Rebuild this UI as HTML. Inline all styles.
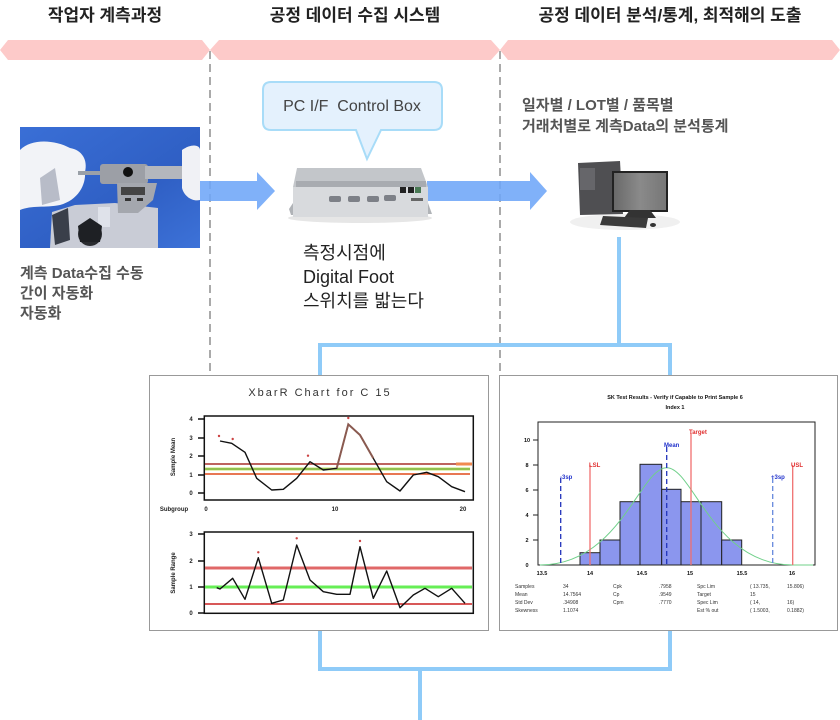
<!DOCTYPE html>
<html><head><meta charset="utf-8"><style>
html,body{margin:0;padding:0;background:#fff;}
svg{display:block;}
.k{font-family:"Liberation Sans","Noto Sans CJK KR",sans-serif;}
</style></head><body>
<svg width="840" height="720" viewBox="0 0 840 720" xmlns="http://www.w3.org/2000/svg" class="k">
<!-- headers -->
<text x="105" y="21" font-size="17" font-weight="bold" fill="#222" text-anchor="middle">작업자 계측과정</text>
<text x="355" y="21" font-size="17" font-weight="bold" fill="#222" text-anchor="middle">공정 데이터 수집 시스템</text>
<text x="670" y="21" font-size="17" font-weight="bold" fill="#222" text-anchor="middle">공정 데이터 분석/통계, 최적해의 도출</text>
<!-- band -->
<polygon points="0,50 8,40 202,40 210,50 202,60 8,60" fill="#fdcac9"/>
<polygon points="210,50 219,40 491,40 500,50 491,60 219,60" fill="#fdcac9"/>
<polygon points="500,50 508,40 832,40 840,50 832,60 508,60" fill="#fdcac9"/>
<!-- dashed -->
<line x1="210" y1="51" x2="210" y2="372" stroke="#aaa" stroke-width="2" stroke-dasharray="8,5"/>
<line x1="500" y1="51" x2="500" y2="372" stroke="#aaa" stroke-width="2" stroke-dasharray="8,5"/>

<!-- photo -->
<defs>
<linearGradient id="pb" x1="0" y1="0" x2="1" y2="1"><stop offset="0" stop-color="#3a6fd6"/><stop offset="0.6" stop-color="#2f5fc4"/><stop offset="1" stop-color="#3d72d8"/></linearGradient>
<linearGradient id="scr" x1="0" y1="0" x2="1" y2="0"><stop offset="0" stop-color="#6a6a6a"/><stop offset="0.5" stop-color="#8a8a8a"/><stop offset="1" stop-color="#777"/></linearGradient>
</defs>
<rect x="20" y="127" width="180" height="121" fill="url(#pb)"/>
<polygon points="50,248 52,212 75,205 115,203 158,208 158,248" fill="#c9ccd6"/>
<polygon points="52,215 68,208 70,240 55,245" fill="#3a3f4a"/>
<rect x="98" y="207" width="12" height="20" fill="#dfe2ea"/>
<circle cx="90" cy="234" r="12" fill="#2a2c30"/>
<polygon points="78,226 90,218 102,226 100,242 80,242" fill="#1e2024"/>
<path d="M20,150 C32,138 55,140 70,148 C82,150 88,160 85,172 C86,185 78,200 60,205 C45,208 32,205 20,210 Z" fill="#f2f3f7"/>
<path d="M40,178 L55,168 L60,200 L42,205 Z" fill="#b8bcc8"/>
<rect x="78" y="171" width="36" height="4" fill="#9aa0a8"/>
<rect x="100" y="164" width="48" height="20" rx="3" fill="#9c9fa6"/>
<rect x="145" y="166" width="42" height="13" fill="#b4b7bd"/>
<circle cx="128" cy="172" r="5" fill="#111"/>
<polygon points="117,183 157,183 153,200 138,213 118,213" fill="#a4a7ae"/>
<rect x="121" y="187" width="24" height="8" fill="#444"/>
<rect x="125" y="198" width="6" height="3" fill="#333"/><rect x="137" y="198" width="6" height="3" fill="#333"/>
<path d="M182,150 C192,143 200,145 200,150 L200,200 C192,202 184,196 182,188 Z" fill="#f0f1f5"/>

<!-- arrows -->
<polygon points="200,181 257,181 257,172 275,191 257,210 257,201 200,201" fill="#6ea6f8" opacity="0.88"/>
<polygon points="427,181 530,181 530,172 547,191 530,210 530,201 427,201" fill="#6ea6f8" opacity="0.88"/>

<!-- bubble -->
<path d="M271,82 L434,82 Q442,82 442,90 L442,122 Q442,130 434,130 L381,130 L367,159 L356,130 L271,130 Q263,130 263,122 L263,90 Q263,82 271,82 Z" fill="#e4f1fd" stroke="#a8dcf8" stroke-width="2"/>
<text x="352" y="111" font-size="16" fill="#444" text-anchor="middle" xml:space="preserve">PC I/F  Control Box</text>

<!-- control box -->
<ellipse cx="360" cy="218" rx="72" ry="5" fill="#e6e6e6"/>
<polygon points="289,209 293,203 300,203 300,215 291,215" fill="#b0b3b7"/>
<polygon points="421,203 428,203 432,214 421,214" fill="#b0b3b7"/>
<polygon points="297,168 421,168 428,187 293,187" fill="#c3c6ca"/>
<rect x="296" y="181" width="130" height="6" fill="#a8abb0"/>
<rect x="293" y="187" width="135" height="30" fill="#d8dadd"/>
<rect x="329" y="196" width="12" height="6" rx="2" fill="#7d8087"/>
<rect x="348" y="196" width="12" height="6" rx="2" fill="#7d8087"/>
<rect x="367" y="196" width="12" height="6" rx="2" fill="#7d8087"/>
<rect x="384" y="195" width="12" height="6" rx="2" fill="#7d8087"/>
<rect x="400" y="187" width="6" height="6" fill="#222"/>
<rect x="408" y="187" width="6" height="6" fill="#222"/>
<rect x="415" y="187" width="6" height="6" fill="#4a7a55"/>
<rect x="411" y="198" width="12" height="3" fill="#666"/>

<!-- middle text -->
<text font-size="18" fill="#222"><tspan x="303" y="259">측정시점에</tspan><tspan x="303" y="283">Digital Foot</tspan><tspan x="303" y="307">스위치를 밟는다</tspan></text>
<!-- left text -->
<text font-size="15" font-weight="bold" fill="#555"><tspan x="20" y="278">계측 Data수집 수동</tspan><tspan x="20" y="298">간이 자동화</tspan><tspan x="20" y="318">자동화</tspan></text>
<!-- right text -->
<text font-size="15" font-weight="bold" fill="#555"><tspan x="522" y="110">일자별 / LOT별 / 품목별</tspan><tspan x="522" y="131">거래처별로 계측Data의 분석통계</tspan></text>

<!-- computer -->
<ellipse cx="625" cy="222" rx="55" ry="8" fill="#f0f0f0"/>
<polygon points="578,163 620,161 623,214 580,215" fill="#4f4f52"/>
<rect x="580" y="168" width="15" height="22" fill="#66666a"/>
<rect x="612" y="171" width="56" height="41" fill="#222"/>
<rect x="614" y="173" width="52" height="37" fill="url(#scr)"/>
<polygon points="630,210 650,210 656,218 624,218" fill="#333"/>
<polygon points="603,216 648,218 646,228 600,225" fill="#3a3a3a"/>
<ellipse cx="653" cy="225" rx="3" ry="2" fill="#333"/>

<!-- connectors -->
<g stroke="#8fcbf8" stroke-width="4" fill="none">
<polyline points="619,237 619,345"/>
<polyline points="320,376 320,345 670,345 670,376"/>
<polyline points="320,631 320,669 670,669 670,631"/>
<polyline points="420,669 420,720"/>
</g>

<!-- left chart -->
<rect x="149.5" y="375.5" width="339" height="255" fill="#fff" stroke="#999"/>
<text x="320" y="396" font-size="11" fill="#333" text-anchor="middle" letter-spacing="2">XbarR Chart for C 15</text>
<rect x="204.3" y="416" width="269" height="84" fill="none" stroke="#111" stroke-width="1.5"/>
<g stroke="#111" stroke-width="1.5">
<line x1="198" y1="419" x2="204" y2="419"/><line x1="198" y1="438" x2="204" y2="438"/><line x1="198" y1="456" x2="204" y2="456"/><line x1="198" y1="475" x2="204" y2="475"/><line x1="198" y1="493" x2="204" y2="493"/>
<line x1="198" y1="534" x2="204" y2="534"/><line x1="198" y1="561" x2="204" y2="561"/><line x1="198" y1="587" x2="204" y2="587"/><line x1="198" y1="613" x2="204" y2="613"/>
</g>
<g font-size="6" font-weight="bold" fill="#222" text-anchor="middle">
<text x="191" y="421">4</text><text x="191" y="440">3</text><text x="191" y="458">2</text><text x="191" y="477">1</text><text x="191" y="495">0</text>
<text x="191" y="536">3</text><text x="191" y="563">2</text><text x="191" y="589">1</text><text x="191" y="615">0</text>
<text x="174" y="511">Subgroup</text><text x="206" y="511">0</text><text x="335" y="511">10</text><text x="463" y="511">20</text>
<text transform="translate(175,457) rotate(-90)">Sample Mean</text>
<text transform="translate(175,573) rotate(-90)">Sample Range</text>
</g>
<line x1="205" y1="464" x2="470" y2="464" stroke="#a8302a" stroke-width="1.5"/>
<line x1="456" y1="464" x2="472" y2="464" stroke="#f08a50" stroke-width="3"/>
<line x1="205" y1="469" x2="470" y2="469" stroke="#c8e070" stroke-width="3"/>
<line x1="205" y1="469" x2="470" y2="469" stroke="#5aa030" stroke-width="1"/>
<line x1="205" y1="474" x2="470" y2="474" stroke="#e04a1a" stroke-width="1.5"/>
<polyline points="220,441 231.7,443.3 245,452.3 256.7,478.3 271.7,490 283.3,489.3 296.7,478.3 310,461.7 323.3,470 336.7,468.3 348.3,424.3 360,435 373.3,458.3 386.7,481.7 400,491 413.3,475 426.7,472.3 438.3,476.7 451.7,486.7 465,491.7" fill="none" stroke="#111" stroke-width="1.4" stroke-linejoin="round"/>
<polyline points="336.7,468.3 348.3,424.3 360,435 373.3,458.3" fill="none" stroke="#8a5a50" stroke-width="2"/>
<g fill="#c44">
<circle cx="219" cy="436" r="1.2"/><circle cx="232.7" cy="439" r="1.2"/><circle cx="308" cy="455.7" r="1.2"/><circle cx="348.3" cy="418" r="1.2"/>
<circle cx="258.3" cy="552.3" r="1.2"/><circle cx="296.7" cy="538.3" r="1.2"/><circle cx="360" cy="541" r="1.2"/>
</g>
<rect x="204.3" y="532" width="269" height="81.3" fill="none" stroke="#111" stroke-width="1.5"/>
<line x1="205" y1="568" x2="472" y2="568" stroke="#e06868" stroke-width="3"/>
<line x1="205" y1="587" x2="472" y2="587" stroke="#66ee55" stroke-width="3"/>
<line x1="205" y1="604" x2="472" y2="604" stroke="#cc2020" stroke-width="1.5"/>
<polyline points="216.7,587.7 220,589 232.7,578.3 245,599.3 258.3,557.7 271.7,603.3 283.3,600 296.7,545 310,580 323.3,591.7 336.7,594.3 350,594.3 360,546.7 373.3,598.3 386.7,571 400,607.7 413.3,595 425,588.3 438.3,596.7 451.7,588.3 465,603.3" fill="none" stroke="#111" stroke-width="1.4" stroke-linejoin="round"/>

<!-- right chart -->
<rect x="499.5" y="375.5" width="338" height="255" fill="#fff" stroke="#999"/>
<g font-size="5.5" font-weight="bold" fill="#111" text-anchor="middle">
<text x="675" y="399">SK Test Results - Verify if Capable to Print Sample 6</text>
<text x="675" y="409">Index 1</text>
<text x="527" y="442">10</text><text x="527" y="467">8</text><text x="527" y="492">6</text><text x="527" y="517">4</text><text x="527" y="542">2</text><text x="527" y="567">0</text>
<text x="542" y="575">13.5</text><text x="590" y="575">14</text><text x="642" y="575">14.5</text><text x="690" y="575">15</text><text x="742" y="575">15.5</text><text x="792" y="575">16</text>
</g>
<rect x="538" y="422" width="277" height="143" fill="none" stroke="#222" stroke-width="1"/>
<g stroke="#222" stroke-width="1">
<line x1="533" y1="440" x2="538" y2="440"/><line x1="533" y1="465" x2="538" y2="465"/><line x1="533" y1="490" x2="538" y2="490"/><line x1="533" y1="515" x2="538" y2="515"/><line x1="533" y1="540" x2="538" y2="540"/>
</g>
<g fill="#8b96ee" stroke="#222" stroke-width="1">
<rect x="580" y="552.7" width="20" height="12.3"/>
<rect x="600" y="540" width="20" height="25"/>
<rect x="620" y="501.7" width="20" height="63.3"/>
<rect x="640" y="464.3" width="21.7" height="100.7"/>
<rect x="661.7" y="489.3" width="19.3" height="75.7"/>
<rect x="681" y="501.7" width="20" height="63.3"/>
<rect x="701" y="501.7" width="20.7" height="63.3"/>
<rect x="721.7" y="540" width="20" height="25"/>
</g>
<path d="M540,565 C620,565 640,467.7 666.7,467.7 C693,467.7 713,565 793,565 L813,565" fill="none" stroke="#70d08a" stroke-width="1"/>
<g stroke-width="1.3">
<line x1="560.7" y1="478" x2="560.7" y2="565" stroke="#2233bb" stroke-dasharray="5,3"/>
<line x1="590" y1="465" x2="590" y2="565" stroke="#f07070"/>
<line x1="666.7" y1="447" x2="666.7" y2="565" stroke="#2233bb" stroke-dasharray="5,3"/>
<line x1="691" y1="433" x2="691" y2="565" stroke="#f07070"/>
<line x1="772.7" y1="478" x2="772.7" y2="565" stroke="#6688dd" stroke-dasharray="5,3"/>
<line x1="792.7" y1="465" x2="792.7" y2="565" stroke="#f07070"/>
</g>
<g font-size="6" font-weight="bold">
<text x="560" y="479" fill="#2233cc">-3sp</text>
<text x="589" y="467" fill="#e03030">LSL</text>
<text x="664" y="447" fill="#2233cc">Mean</text>
<text x="689" y="434" fill="#e03030">Target</text>
<text x="771" y="479" fill="#2233cc">+3sp</text>
<text x="791" y="467" fill="#e03030">USL</text>
</g>
<g font-size="5" fill="#333">
<text x="515" y="588">Samples</text><text x="515" y="596">Mean</text><text x="515" y="604">Std Dev</text><text x="515" y="612">Skewness</text>
<text x="563" y="588">34</text><text x="563" y="596">14.7564</text><text x="563" y="604">.34908</text><text x="563" y="612">1.1074</text>
<text x="613" y="588">Cpk</text><text x="613" y="596">Cp</text><text x="613" y="604">Cpm</text>
<text x="659" y="588">.7958</text><text x="659" y="596">.9549</text><text x="659" y="604">.7770</text>
<text x="697" y="588">Spc Lim</text><text x="697" y="596">Target</text><text x="697" y="604">Spec Lim</text><text x="697" y="612">Est % out</text>
<text x="750" y="588">( 13.735,</text><text x="750" y="596">15</text><text x="750" y="604">( 14,</text><text x="750" y="612">( 1.5003,</text>
<text x="787" y="588">15.806)</text><text x="787" y="604">16)</text><text x="787" y="612">0.1882)</text>
</g>
</svg>
</body></html>
